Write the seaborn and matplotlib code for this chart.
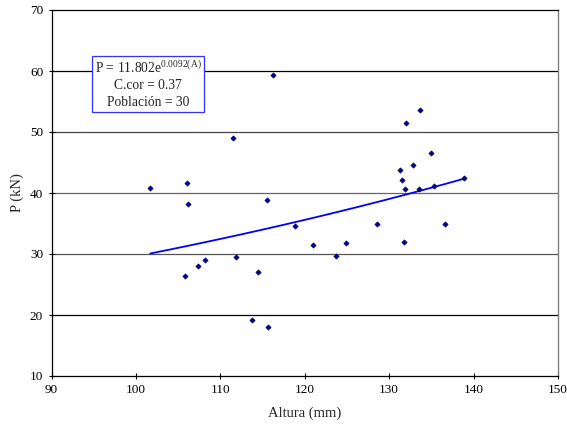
import numpy as np
import pandas as pd
import matplotlib
matplotlib.use("Agg")
import matplotlib.pyplot as plt
import seaborn as sns

# Data
altura = [101.7, 106.0, 106.2, 111.5, 115.5, 118.8, 121.0, 111.9, 108.2, 107.4,
          105.8, 114.5, 113.8, 115.6, 116.2,
          133.7, 132.0, 134.9, 132.8, 131.3, 131.5, 131.9, 133.5, 135.3, 138.9,
          128.5, 136.6, 124.9, 131.7, 123.7]
carga = [40.9, 41.7, 38.2, 49.0, 38.9, 34.6, 31.5, 29.5, 29.0, 28.1,
         26.4, 27.1, 19.1, 18.1, 59.4,
         53.6, 51.4, 46.5, 44.6, 43.7, 42.2, 40.6, 40.6, 41.1, 42.5,
         34.9, 35.0, 31.8, 32.0, 29.6]
fit_a = 11.802
fit_b = 0.0092
x_ticks = [90, 100, 110, 120, 130, 140, 150]
y_ticks = [10, 20, 30, 40, 50, 60, 70]

df = pd.DataFrame({"Altura": altura, "P": carga})
xs = np.linspace(min(altura), max(altura), 100)
fit = pd.DataFrame({"Altura": xs, "P": fit_a * np.exp(fit_b * xs)})

sns.set_style("white")
plt.rcParams["font.family"] = ["Liberation Serif", "DejaVu Serif"]
plt.rcParams["mathtext.default"] = "regular"

fig = plt.figure(figsize=(5.67, 4.34), dpi=100)
ax = fig.add_axes([51.5 / 567, 1 - 376 / 434, (558 - 51.5) / 567, (376 - 10) / 434])

grid_colors = {20: "#000000", 30: "#555555", 40: "#666666", 50: "#444444", 60: "#000000"}
for y in y_ticks[1:-1]:
    ax.axhline(y, color=grid_colors[y], lw=0.9, zorder=0)

sns.lineplot(data=fit, x="Altura", y="P", ax=ax, color="#0000FF", lw=1.3, zorder=2)
sns.scatterplot(data=df, x="Altura", y="P", ax=ax, marker="D", s=7,
                color="#000080", edgecolor="#000080", linewidth=0.5, zorder=3)

ax.set_xlim(90, 150)
ax.set_ylim(10, 70)
ax.set_xticks(x_ticks)
ax.set_yticks(y_ticks)
ax.tick_params(axis="both", direction="inout", length=4, width=0.8, labelsize=9.5,
               colors="#000000", pad=4, left=True, bottom=True)
for s in ["left", "bottom", "top"]:
    ax.spines[s].set_color("#000000")
    ax.spines[s].set_linewidth(0.9)
ax.spines["right"].set_color("#808080")
ax.spines["right"].set_linewidth(1.0)

ax.set_xlabel("Altura (mm)", fontsize=10.5, labelpad=7)
ax.set_ylabel("P (kN)", fontsize=10.5, labelpad=4)

ax.text(148 / 567, 1 - 84 / 434, "P = 11.802e$^{0.0092(A)}$\nC.cor = 0.37\nPoblación = 30",
        transform=fig.transFigure, ha="center", va="center", fontsize=9.8,
        linespacing=1.35, zorder=5,
        bbox=dict(boxstyle="square,pad=0.2", facecolor="white", edgecolor="#3333FF", linewidth=0.9))

fig.savefig("out.png", dpi=100)
